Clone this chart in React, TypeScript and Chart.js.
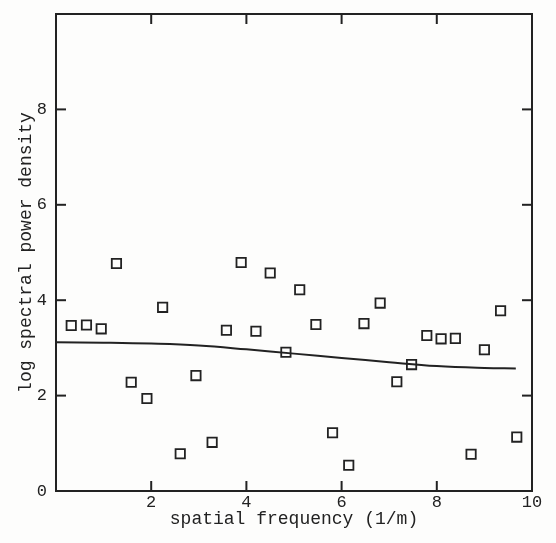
import React, { useEffect, useRef } from "react";
import { Chart, registerables } from "chart.js";

Chart.register(...registerables);

// Scatter observations: spatial frequency (1/m) vs log spectral power density
const freqX = [0.32, 0.64, 0.95, 1.27, 1.58, 1.91, 2.24, 2.61, 2.94, 3.28, 3.58, 3.89, 4.2, 4.5, 4.83, 5.12, 5.46, 5.81, 6.15, 6.47, 6.81, 7.16, 7.47, 7.79, 8.09, 8.39, 8.72, 9.0, 9.34, 9.68];
const powerY = [3.47, 3.48, 3.4, 4.77, 2.28, 1.94, 3.85, 0.78, 2.42, 1.02, 3.37, 4.79, 3.35, 4.57, 2.91, 4.22, 3.49, 1.22, 0.54, 3.51, 3.94, 2.29, 2.65, 3.26, 3.19, 3.2, 0.77, 2.96, 3.78, 1.13];

// Fitted smooth curve
const fitX = [0, 1, 2, 3, 4, 5, 6, 7, 8, 9, 9.66];
const fitY = [3.12, 3.11, 3.09, 3.05, 2.97, 2.88, 2.79, 2.7, 2.62, 2.58, 2.57];

const xTicks = [0, 2, 4, 6, 8, 10];
const yTicks = [0, 2, 4, 6, 8, 10];
const xTitle = "spatial frequency (1/m)";
const yTitle = "log spectral power density";

const INK = "#222222";
const FONT = "'Liberation Mono', 'DejaVu Sans Mono', monospace";

const frameTicks = {
  id: "frameTicks",
  afterDatasetsDraw(chart: any) {
    const { ctx, chartArea: a, scales } = chart;
    ctx.save();
    ctx.strokeStyle = INK;
    ctx.lineWidth = 2;
    ctx.strokeRect(a.left, a.top, a.right - a.left, a.bottom - a.top);
    const len = 10;
    const seg = (x1: number, y1: number, x2: number, y2: number) => {
      ctx.beginPath();
      ctx.moveTo(x1, y1);
      ctx.lineTo(x2, y2);
      ctx.stroke();
    };
    scales.x.ticks.forEach((t: any) => {
      if (t.value <= 0 || t.value >= 10) return;
      const px = scales.x.getPixelForValue(t.value);
      seg(px, a.bottom, px, a.bottom - len);
      seg(px, a.top, px, a.top + len);
    });
    scales.y.ticks.forEach((t: any) => {
      if (t.value <= 0 || t.value >= 10) return;
      const py = scales.y.getPixelForValue(t.value);
      seg(a.left, py, a.left + len, py);
      seg(a.right, py, a.right - len, py);
    });
    ctx.restore();
  },
};

export default function App() {
  const ref = useRef<HTMLCanvasElement>(null);

  useEffect(() => {
    if (!ref.current) return;
    const points = freqX.map((x, i) => ({ x, y: powerY[i] }));
    const curve = fitX.map((x, i) => ({ x, y: fitY[i] }));
    const zeroPad = (s: any) => {
      s.paddingTop = 0;
      s.paddingBottom = 0;
      s.paddingLeft = 0;
      s.paddingRight = 0;
    };
    const chart = new Chart(ref.current, {
      type: "scatter",
      data: {
        datasets: [
          {
            data: points,
            pointStyle: "rect",
            radius: 6.6,
            borderColor: INK,
            backgroundColor: "rgba(0,0,0,0)",
            borderWidth: 1.8,
            showLine: false,
          },
          {
            data: curve,
            showLine: true,
            pointRadius: 0,
            borderColor: INK,
            borderWidth: 2,
            tension: 0.4,
            fill: false,
          },
        ],
      },
      options: {
        animation: false,
        responsive: false,
        layout: { padding: { top: 14, right: 24, left: 0, bottom: 0 } },
        plugins: { legend: { display: false }, tooltip: { enabled: false } },
        scales: {
          x: {
            type: "linear",
            position: "bottom",
            min: 0,
            max: 10,
            afterFit: (s: any) => {
              s.height = 52;
              zeroPad(s);
            },
            afterBuildTicks: (s: any) => {
              s.ticks = xTicks.map((v) => ({ value: v }));
            },
            ticks: {
              padding: 1,
              color: INK,
              font: { family: FONT, size: 17 },
              callback: (v: any) => (v === 0 ? "" : String(v)),
            },
            grid: { display: false, drawTicks: false },
            border: { display: false },
            title: {
              display: true,
              text: xTitle,
              color: INK,
              font: { family: FONT, size: 18 },
              padding: { top: 0, bottom: 13 },
            },
          },
          y: {
            type: "linear",
            position: "left",
            min: 0,
            max: 10,
            afterFit: (s: any) => {
              s.width = 56;
              zeroPad(s);
            },
            afterBuildTicks: (s: any) => {
              s.ticks = yTicks.map((v) => ({ value: v }));
            },
            ticks: {
              padding: 9,
              color: INK,
              font: { family: FONT, size: 17 },
              callback: (v: any) => (v === 10 ? "" : String(v)),
            },
            grid: { display: false, drawTicks: false },
            border: { display: false },
            title: {
              display: true,
              text: yTitle,
              color: INK,
              font: { family: FONT, size: 18 },
              padding: { top: 15, bottom: 0 },
            },
          },
        },
      },
      plugins: [frameTicks],
    } as any);
    return () => chart.destroy();
  }, []);

  return (
    <div style={{ position: "fixed", left: 0, top: 0, width: 556, height: 543, background: "#fdfdfc" }}>
      <canvas ref={ref} width={556} height={543} style={{ display: "block" }} />
    </div>
  );
}
